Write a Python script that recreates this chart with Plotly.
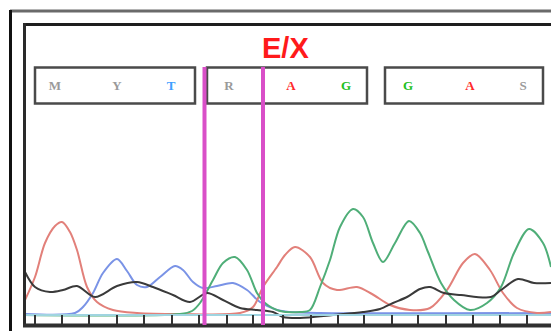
import plotly.graph_objects as go

# ---- data (scan position, signal intensity) ----
red_x = [25,35,45,55,62,70,77,87,97,113,137,180,240,253,263,277,285,295,310,323,337,357,372,390,410,430,447,463,475,490,503,517,537,551]
red_y = [15,38,72,89,93,83,65,28,13,5,2,1,2,8,28,48,60,68,58,32,25,28,21,10,5,7,25,52,61,45,22,7,2,3]

green_x = [25,180,192,200,213,223,235,247,257,265,280,300,310,320,330,340,353,363,373,383,395,409,420,428,441,454,470,487,501,514,529,543,551]
green_y = [0,1,4,12,35,52,58,45,22,12,4,3,5,28,55,88,106,98,72,53,72,94,82,63,32,15,5,12,28,62,86,72,48]

blue_x = [25,75,83,93,103,117,127,137,147,160,175,183,193,203,217,233,247,260,277,290,320,551]
blue_y = [1,2,8,22,42,56,44,30,28,38,49,45,33,27,29,32,25,13,5,3,2,2]

black_x = [25,35,50,63,77,95,117,137,153,173,190,207,223,240,257,273,283,300,333,363,380,393,407,420,430,444,461,491,501,518,534,551]
black_y = [43,28,23,25,29,18,29,33,28,20,13,22,15,7,5,3,-2,-3,0,3,6,12,18,26,28,22,20,18,25,36,32,32]

calls = ["M", "Y", "T", "R", "A", "G", "G", "A", "S"]
call_x = [55, 117, 171, 229, 291, 346, 408, 470, 523]
call_colors = ["#9a9a9a", "#9a9a9a", "#3f9fff", "#9a9a9a", "#ff2a2a", "#22c022", "#22c022", "#ff2a2a", "#9a9a9a"]

tick_x = [35,62,89,117,144,172,199,227,253,283,311,338,364,392,418,446,473,500,527]
marker_x = [204.5, 263]
label_text = "<b>E/X</b>"

W, H = 551, 331
BASE = 315  # pixel row of zero intensity


def py(p):
    """convert a pixel row to the intensity axis"""
    return BASE - p


fig = go.Figure()

traces = [
    (blue_x, blue_y, "#7a93e6"),
    (red_x, red_y, "#e2807a"),
    (green_x, green_y, "#4fae78"),
    (black_x, black_y, "#3a3a3a"),
]
for xs, ys, c in traces:
    fig.add_trace(go.Scatter(x=xs, y=ys, mode="lines",
                             line=dict(color=c, width=2, shape="spline", smoothing=0.9),
                             hoverinfo="skip", showlegend=False))

# baseline
fig.add_trace(go.Scatter(x=[25, 551], y=[0, 0], mode="lines",
                         line=dict(color="#9fd4e0", width=2), showlegend=False, hoverinfo="skip"))

# tick marks
fig.add_trace(go.Scatter(x=tick_x, y=[py(320)] * len(tick_x), mode="markers",
                         marker=dict(symbol="line-ns", size=7, line=dict(color="#333333", width=2)),
                         showlegend=False, hoverinfo="skip"))

# base calls
fig.add_trace(go.Scatter(x=call_x, y=[py(87)] * len(call_x), mode="text",
                         text=["<b>%s</b>" % c for c in calls],
                         textfont=dict(family="Liberation Serif", size=13, color=call_colors),
                         showlegend=False, hoverinfo="skip"))

shapes = []
# outer frame
shapes.append(dict(type="line", x0=10, x1=551, y0=py(11), y1=py(11), line=dict(color="#6a6a6a", width=3)))
shapes.append(dict(type="line", x0=10.5, x1=10.5, y0=py(10), y1=py(331), line=dict(color="#111111", width=3)))
# inner frame
shapes.append(dict(type="line", x0=23, x1=551, y0=py(24.5), y1=py(24.5), line=dict(color="#1e1e1e", width=3)))
shapes.append(dict(type="line", x0=24.5, x1=24.5, y0=py(23), y1=py(327), line=dict(color="#2a2a2a", width=3)))
shapes.append(dict(type="line", x0=23, x1=551, y0=py(325.5), y1=py(325.5), line=dict(color="#303030", width=4)))
# boxes round the base calls
for x0, x1 in [(35, 195), (207, 367), (385, 543)]:
    shapes.append(dict(type="rect", x0=x0, x1=x1, y0=py(67.5), y1=py(103.5),
                       line=dict(color="#4a4a4a", width=2.5)))
# magenta markers
for mx in marker_x:
    shapes.append(dict(type="line", x0=mx, x1=mx, y0=py(67), y1=py(325),
                       line=dict(color="#d94fc8", width=4)))

fig.update_layout(
    width=W, height=H, margin=dict(l=0, r=0, t=0, b=0),
    paper_bgcolor="white", plot_bgcolor="white",
    xaxis=dict(range=[0, W], visible=False, fixedrange=True),
    yaxis=dict(range=[py(H), py(0)], visible=False, fixedrange=True),
    shapes=shapes,
    annotations=[dict(x=285, y=py(48), text=label_text, showarrow=False,
                      font=dict(family="Liberation Sans", size=29, color="#ff1a1a"))],
)

fig.write_html("out.html", config={"displayModeBar": False},
               post_script="document.body.style.margin='0';document.body.style.overflow='hidden';")
